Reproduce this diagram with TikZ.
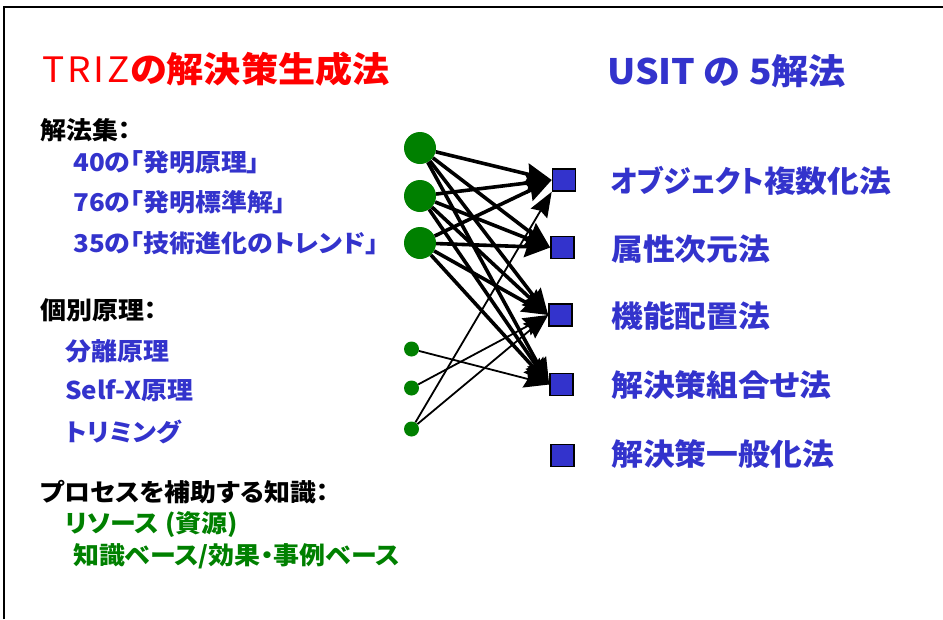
\documentclass[tikz,border=0pt]{standalone}
\usepackage{fontspec}
\setmainfont[RawFeature=+palt, FakeStretch=1.06]{Noto Sans CJK JP}
\usetikzlibrary{arrows.meta}
\definecolor{ublue}{RGB}{51,51,204}
\definecolor{ugreen}{RGB}{0,128,0}
\definecolor{ured}{RGB}{255,0,0}
\begin{document}
\begin{tikzpicture}[x=1pt,y=-1pt,
  lbl/.style={anchor=west, inner sep=0pt, font=\bfseries\fontsize{24.5}{24.5}\selectfont},
  head/.style={lbl, text=black},
  bluetxt/.style={lbl, text=ublue},
  greentxt/.style={lbl, text=ugreen},
  usit/.style={anchor=west, inner sep=0pt, text=ublue, font=\bfseries\fontsize{30}{30}\selectfont},
  dotbig/.style={circle, fill=ugreen, minimum size=32pt, inner sep=0pt},
  dotsmall/.style={circle, fill=ugreen, minimum size=15pt, inner sep=0pt},
  sq/.style={rectangle, fill=ublue, draw=black, line width=1.6pt, minimum width=23pt, minimum height=22pt, inner sep=0pt},
  bigarr/.style={line width=3.6pt, -{Stealth[length=26pt, width=21pt, inset=3pt]}},
  thinarr/.style={line width=1.8pt, -{Stealth[length=25pt, width=19pt, inset=3pt]}}
]
\useasboundingbox (0,0) rectangle (943,619);
% frame
\draw[line width=2pt] (4,619) -- (4,6.7) -- (943,6.7);

% titles
\node[anchor=west, inner sep=0pt, text=ured, font=\bfseries\fontsize{35}{35}\selectfont] (t1) at (42,69)
  {{\mdseries T\kern3pt R\kern3pt I\kern3pt Z}の解決策生成法};
\node[anchor=west, inner sep=0pt, text=ublue, font=\bfseries\fontsize{35}{35}\selectfont] (t2) at (607,71)
  {USIT の 5解法};

% left column
\node[head] (h1) at (40,130) {解法集：};
\node[bluetxt] (b1) at (73,162) {40の「発明原理」};
\node[bluetxt] (b2) at (73,202) {76の「発明標準解」};
\node[bluetxt] (b3) at (73,243) {35の「技術進化のトレンド」};
\node[head] (h2) at (40,310) {個別原理：};
\node[bluetxt] (b4) at (65,351) {分離原理};
\node[bluetxt] (b5) at (65,391) {Self-X原理};
\node[bluetxt] (b6) at (65,432) {トリミング};
\node[head] (h3) at (40,492) {プロセスを補助する知識：};
\node[greentxt] (g1) at (65,525) {リソース (資源)};
\node[greentxt] (g2) at (73,556) {知識ベース/効果・事例ベース};

% dots
\node[dotbig] (c1) at (420,148) {};
\node[dotbig] (c2) at (420,196) {};
\node[dotbig] (c3) at (420,243) {};
\node[dotsmall] (s1) at (411.5,349) {};
\node[dotsmall] (s2) at (411.5,388) {};
\node[dotsmall] (s3) at (411.5,429) {};

% squares
\node[sq] (q1) at (564,180) {};
\node[sq] (q2) at (562.5,247.5) {};
\node[sq] (q3) at (560.5,315) {};
\node[sq] (q4) at (561.5,384.5) {};
\node[sq] (q5) at (562.5,455.5) {};

% right labels
\node[usit] (u1) at (611,181) {\scalebox{0.88}[1]{オブジェクト}複数化法};
\node[usit] (u2) at (611,249) {属性次元法};
\node[usit] (u3) at (611,316) {機能配置法};
\node[usit] (u4) at (611,385) {解決策組合せ法};
\node[usit] (u5) at (611,454) {解決策一般化法};

% arrows
\foreach \c in {c1,c2,c3}{
  \foreach \q in {q1,q2,q3,q4}{
    \draw[bigarr] (\c) -- (\q.west);
  }
}
\draw[thinarr] (s1) -- (q4.west);
\draw[thinarr] (s2) -- (q3.west);
\draw[thinarr] (s3) -- (q3.west);
\draw[thinarr] (s3) -- (q1.south west);
\end{tikzpicture}
\end{document}
